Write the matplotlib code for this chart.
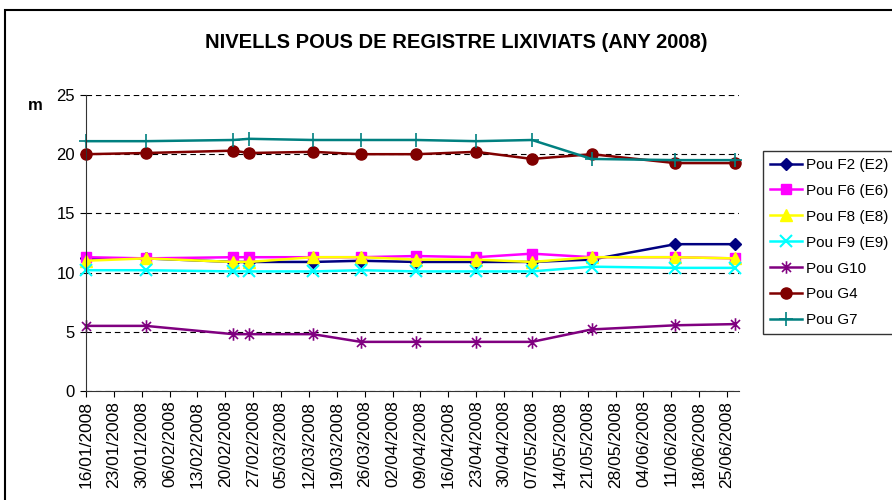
import matplotlib
matplotlib.use("Agg")
import matplotlib.pyplot as plt
import matplotlib.dates as mdates
from matplotlib.path import Path
from matplotlib.patches import Rectangle
import pandas as pd

plt.rcParams['font.family'] = ['Liberation Sans', 'DejaVu Sans']

# dates of the readings (2008)
dates = pd.to_datetime(["2008-01-16", "2008-01-31", "2008-02-22", "2008-02-26",
                        "2008-03-13", "2008-03-25", "2008-04-08", "2008-04-23",
                        "2008-05-07", "2008-05-22", "2008-06-12", "2008-06-27"])

pou_f2 = [11.2, 11.2, 10.9, 10.9, 10.9, 11.0, 10.9, 10.9, 10.9, 11.1, 12.4, 12.4]
pou_f6 = [11.3, 11.2, 11.3, 11.3, 11.3, 11.3, 11.4, 11.3, 11.6, 11.3, 11.3, 11.2]
pou_f8 = [11.0, 11.2, 10.9, 10.9, 11.3, 11.3, 11.1, 11.1, 10.9, 11.3, 11.3, 11.2]
pou_f9 = [10.2, 10.2, 10.1, 10.1, 10.1, 10.2, 10.1, 10.1, 10.1, 10.5, 10.4, 10.4]
pou_g10 = [5.5, 5.5, 4.8, 4.8, 4.8, 4.15, 4.15, 4.15, 4.15, 5.2, 5.55, 5.65]
pou_g4 = [20.0, 20.1, 20.3, 20.1, 20.2, 20.0, 20.0, 20.2, 19.6, 20.0, 19.25, 19.25]
pou_g7 = [21.1, 21.1, 21.2, 21.3, 21.2, 21.2, 21.2, 21.1, 21.2, 19.6, 19.5, 19.5]

tick_dates = pd.date_range("2008-01-16", "2008-06-25", freq="7D")

# excel style star: vertical bar + x
star = Path([(0, -1), (0, 1), (-0.72, -0.72), (0.72, 0.72), (-0.72, 0.72), (0.72, -0.72)],
            [Path.MOVETO, Path.LINETO, Path.MOVETO, Path.LINETO, Path.MOVETO, Path.LINETO])

fig = plt.figure(figsize=(8.92, 5.0), dpi=100)
ax = fig.add_axes([86 / 892, 1 - 391 / 500, (739 - 86) / 892, (391 - 95) / 500])

lw = 1.8
ax.plot(dates, pou_f2, color='#000080', lw=lw, marker='D', ms=6.5, label='Pou F2 (E2)', clip_on=False)
ax.plot(dates, pou_f6, color='#FF00FF', lw=lw, marker='s', ms=7, label='Pou F6 (E6)', clip_on=False)
ax.plot(dates, pou_f8, color='#FFFF00', lw=lw, marker='^', ms=8, label='Pou F8 (E8)', clip_on=False)
ax.plot(dates, pou_f9, color='#00FFFF', lw=lw, marker='x', ms=8, mew=1.5, label='Pou F9 (E9)', clip_on=False)
ax.plot(dates, pou_g10, color='#800080', lw=lw, marker=star, ms=9, mew=1.2, mfc='none',
        label='Pou G10', clip_on=False)
ax.plot(dates, pou_g4, color='#800000', lw=lw, marker='o', ms=8, label='Pou G4', clip_on=False)
ax.plot(dates, pou_g7, color='#008080', lw=lw, marker='+', ms=10, mew=1.2, label='Pou G7', clip_on=False)

ax.set_ylim(0, 25)
ax.set_yticks([0, 5, 10, 15, 20, 25])
ax.set_xlim(pd.Timestamp("2008-01-16"), pd.Timestamp("2008-01-16") + pd.Timedelta(days=164))
ax.set_xticks(tick_dates)
ax.xaxis.set_major_formatter(mdates.DateFormatter('%d/%m/%Y'))
ax.tick_params(axis='x', labelrotation=90, labelsize=12.5, length=4, direction='out', pad=3)
ax.tick_params(axis='y', labelsize=12, length=4, direction='out', pad=4)

ax.grid(axis='y', color='black', linestyle=(0, (5, 3.5)), lw=0.8)
ax.set_axisbelow(True)
for s in ['top', 'right']:
    ax.spines[s].set_visible(False)
ax.spines['left'].set_color('#333333')
ax.spines['bottom'].set_color('#333333')

fig.text(456 / 892, 1 - 43 / 500, 'NIVELLS POUS DE REGISTRE LIXIVIATS (ANY 2008)',
         ha='center', va='center', fontsize=14.5, fontweight='bold')
fig.text(35 / 892, 1 - 106 / 500, 'm', ha='center', va='center', fontsize=12, fontweight='bold')

leg = ax.legend(loc='upper left', bbox_to_anchor=(763 / 892, 1 - 151 / 500),
                bbox_transform=fig.transFigure, borderaxespad=0, fontsize=11,
                fancybox=False, frameon=True, edgecolor='black', handlelength=2.1,
                handletextpad=0.25, labelspacing=0.78, borderpad=0.45)
leg.get_frame().set_linewidth(1.0)

# outer chart border (cut by the picture edges)
fig.patches.append(Rectangle((5 / 892, -0.1), 1.2, 1.08, fill=False,
                             lw=1.5, edgecolor='black', transform=fig.transFigure))

fig.savefig("out.png", dpi=100)
